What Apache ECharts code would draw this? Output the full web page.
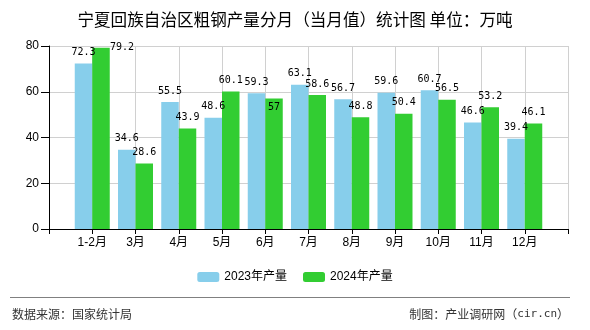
<!DOCTYPE html>
<html><head><meta charset="utf-8">
<script src="https://cdn.jsdelivr.net/npm/echarts@6/dist/echarts.min.js"></script>
<style>html,body{margin:0;padding:0;background:#fff}#c{width:590px;height:330px}</style>
</head><body><div id="c"></div>
<script>
var titleText = '宁夏回族自治区粗钢产量分月（当月值）统计图 单位：万吨';
var months = ['1-2月','3月','4月','5月','6月','7月','8月','9月','10月','11月','12月'];
var seriesNames = ['2023年产量','2024年产量'];
var values2023 = [72.3,34.6,55.5,48.6,59.3,63.1,56.7,59.6,60.7,46.6,39.4];
var values2024 = [79.2,28.6,43.9,60.1,57,58.6,48.8,50.4,56.5,53.2,46.1];
var yTicks = [0,20,40,60,80];

var cats = [''].concat(months).concat(['']);
function pad(arr){ return [null].concat(arr).concat([null]); }
// label position adjustments (style only) keyed by series index / month index
var labelShift = {'1_0':[21,11], '1_4':[0,20]};
function build(arr, si){
  return pad(arr).map(function(v,i){
    if (v === null) return null;
    var k = si + '_' + (i-1);
    if (labelShift[k]) return {value:v, label:{offset:labelShift[k]}};
    return v;
  });
}
var colors = ['#87CEEB','#32CD32'];
var chart = echarts.init(document.getElementById('c'));
var lblStyle = {show:true, position:'top', distance:6, color:'#000', fontFamily:'DejaVu Sans Mono, monospace', fontSize:10};
chart.setOption({
  animation:false,
  title:{text:titleText, left:'center', top:6, textStyle:{fontFamily:'Noto Sans CJK SC', fontSize:16.6, fontWeight:'normal', color:'#000'}},
  grid:{left:49, right:22, top:46, bottom:101},
  legend:{bottom:42, left:'center', itemWidth:22, itemHeight:10, itemGap:16, textStyle:{fontFamily:'Liberation Sans, Noto Sans CJK SC', fontSize:12, color:'#000'}, data:seriesNames},
  xAxis:{type:'category', data:cats, boundaryGap:false,
    axisLine:{lineStyle:{color:'#000'}}, axisTick:{show:true, length:5, lineStyle:{color:'#000'}},
    axisLabel:{color:'#000', fontSize:12, fontFamily:'Liberation Sans, Noto Sans CJK SC', margin:8, interval:0},
    splitLine:{show:true, lineStyle:{color:'#d0d0d0'}}},
  yAxis:{type:'value', min:yTicks[0], max:yTicks[yTicks.length-1], interval:20,
    axisLine:{show:true, lineStyle:{color:'#000'}}, axisTick:{show:true, length:8, lineStyle:{color:'#000'}},
    axisLabel:{color:'#000', fontSize:12, fontFamily:'Liberation Sans', margin:10},
    splitLine:{lineStyle:{color:'#d0d0d0'}}},
  series:[
    {name:seriesNames[0], type:'bar', data:build(values2023,0), barWidth:17.5, barGap:'0%', itemStyle:{color:colors[0]}, label:lblStyle},
    {name:seriesNames[1], type:'bar', data:build(values2024,1), barWidth:17.5, barGap:'0%', itemStyle:{color:colors[1]}, label:lblStyle}
  ],
  graphic:[
    {type:'line', shape:{x1:10, y1:297.5, x2:570, y2:297.5}, style:{stroke:'#808080', lineWidth:1}},
    {type:'text', left:12, top:308, style:{text:'数据来源：国家统计局', font:'12px "Noto Sans CJK SC"', fill:'#333'}},
    {type:'text', right:21, top:308, style:{
      text:'{a|制图：产业调研网（}{b|cir.cn}{a|）}',
      rich:{a:{fontFamily:'Noto Sans CJK SC', fontSize:12, fill:'#333'}, b:{fontFamily:'DejaVu Sans Mono', fontSize:11, fill:'#333'}}}}
  ]
});
</script></body></html>
